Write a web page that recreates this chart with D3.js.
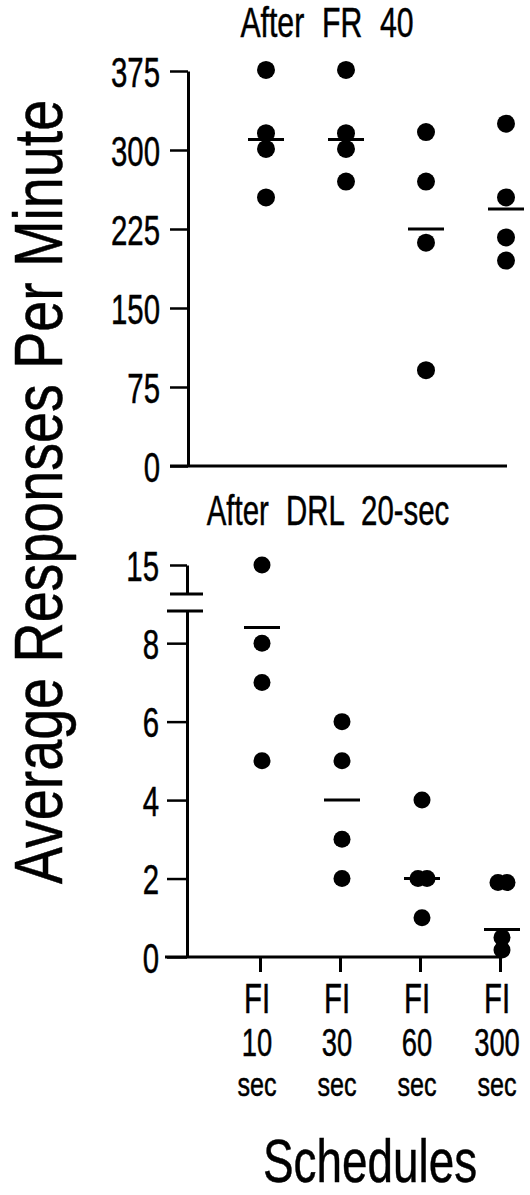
<!DOCTYPE html>
<html>
<head>
<meta charset="utf-8">
<script src="https://cdn.jsdelivr.net/npm/d3@7"></script>
<style>
  body { margin: 0; background: #fff; }
  svg text { font-family: "Liberation Sans", Arial, sans-serif; fill: #000; stroke: #000; stroke-width: 0.5px; }
  .axis path, .axis line { stroke: #000; }
</style>
</head>
<body>
<div id="chart"></div>
<script>
// Schedules on the x axis (three text lines each)
const schedules = ['FI 10 sec', 'FI 30 sec', 'FI 60 sec', 'FI 300 sec'];
const schedSeconds = ['10', '30', '60', '300'];

// After FR 40: individual subjects and group mean
const frValues = [[376, 316, 301, 255], [376, 316, 301, 270], [317, 270, 212, 91], [325, 255, 217, 195]];
const frMeans = [310, 310, 225, 244];
const frTicks = [0, 75, 150, 225, 300, 375];

// After DRL 20-sec
const drlValues = [[15, 8, 7, 5], [6, 5, 3, 2], [4, 2, 2, 1], [1.9, 1.9, 0.5, 0.18]];
const drlMeans = [8.4, 4, 2, 0.7];
const drlTicks = [0, 2, 4, 6, 8];
const drlTopTicks = [15];

const width = 530, height = 1195;
const condense = 0.7;

const svg = d3.select('#chart').append('svg')
    .attr('width', width)
    .attr('height', height);

// Scales
const xTop = d3.scalePoint().domain(schedules).range([266, 506]);
const xBot = d3.scalePoint().domain(schedules).range([262, 502]);
const yTop = d3.scaleLinear().domain([0, 375]).range([466, 71]);
const yLow = d3.scaleLinear().domain([0, 8.82]).range([957, 611]);
const yHigh = d3.scaleLinear().domain([14, 15]).range([594, 565]);
const yDrl = v => v > 8.82 ? yHigh(v) : yLow(v);

// condensed tick labels
function styleTicks(g, size) {
    g.selectAll('.tick line').attr('stroke-width', 2.5);
    g.selectAll('.tick text')
        .attr('font-size', 42)
        .attr('x', -(size + 10) / condense)
        .attr('dy', '0.36em')
        .attr('transform', 'scale(' + condense + ',1)');
    g.select('.domain').attr('stroke-width', 3);
}

// ---- top panel ----
const axTop = svg.append('g')
    .attr('class', 'axis')
    .attr('transform', 'translate(188,0)')
    .call(d3.axisLeft(yTop).tickValues(frTicks).tickSize(18).tickSizeOuter(0));
styleTicks(axTop, 18);

svg.append('line')
    .attr('x1', 170).attr('x2', xTop.range()[1] + 1)
    .attr('y1', yTop(0)).attr('y2', yTop(0))
    .attr('stroke', '#000').attr('stroke-width', 3);

svg.append('text')
    .attr('transform', 'translate(327,37) scale(0.72,1)')
    .attr('text-anchor', 'middle')
    .attr('font-size', 42)
    .style('word-spacing', '13px')
    .text('After FR 40');

schedules.forEach((s, i) => {
    svg.append('g').selectAll('circle')
        .data(frValues[i])
        .join('circle')
        .attr('cx', xTop(s))
        .attr('cy', d => yTop(d))
        .attr('r', 9);
    svg.append('line')
        .attr('x1', xTop(s) - 18).attr('x2', xTop(s) + 18)
        .attr('y1', yTop(frMeans[i])).attr('y2', yTop(frMeans[i]))
        .attr('stroke', '#000').attr('stroke-width', 3);
});

// ---- bottom panel ----
const axLow = svg.append('g')
    .attr('class', 'axis')
    .attr('transform', 'translate(187,0)')
    .call(d3.axisLeft(yLow).tickValues(drlTicks).tickSize(20).tickSizeOuter(0));
styleTicks(axLow, 18);

const axHigh = svg.append('g')
    .attr('class', 'axis')
    .attr('transform', 'translate(187,0)')
    .call(d3.axisLeft(yHigh).tickValues(drlTopTicks).tickFormat(d3.format('d')).tickSize(17).tickSizeOuter(0));
styleTicks(axHigh, 18);

// axis break marks
svg.append('line')
    .attr('x1', 170).attr('x2', 203)
    .attr('y1', yHigh.range()[0]).attr('y2', yHigh.range()[0])
    .attr('stroke', '#000').attr('stroke-width', 3);
svg.append('line')
    .attr('x1', 167).attr('x2', 203)
    .attr('y1', yLow.range()[1]).attr('y2', yLow.range()[1])
    .attr('stroke', '#000').attr('stroke-width', 3);

// x axis with ticks going down
const axX = svg.append('g')
    .attr('class', 'axis')
    .attr('transform', 'translate(-2,' + yLow(0) + ')')
    .call(d3.axisBottom(xBot).tickSize(15).tickSizeOuter(0).tickFormat(''));
axX.select('.domain').remove();
axX.selectAll('.tick line').attr('stroke-width', 3);
svg.append('line')
    .attr('x1', 165).attr('x2', xBot.range()[1])
    .attr('y1', yLow(0)).attr('y2', yLow(0))
    .attr('stroke', '#000').attr('stroke-width', 3);

svg.append('text')
    .attr('transform', 'translate(328,525) scale(0.7,1)')
    .attr('text-anchor', 'middle')
    .attr('font-size', 42)
    .style('word-spacing', '13px')
    .text('After DRL 20-sec');

schedules.forEach((s, i) => {
    const vals = drlValues[i];
    svg.append('g').selectAll('circle')
        .data(vals)
        .join('circle')
        .attr('cx', (d, j) => {
            // nudge repeated values so both dots show
            const dup = vals.indexOf(d) !== vals.lastIndexOf(d);
            if (!dup) return xBot(s);
            return xBot(s) + (vals.indexOf(d) === j ? -4 : 5);
        })
        .attr('cy', d => yDrl(d))
        .attr('r', 8.5);
    svg.append('line')
        .attr('x1', xBot(s) - 18).attr('x2', xBot(s) + 18)
        .attr('y1', yDrl(drlMeans[i])).attr('y2', yDrl(drlMeans[i]))
        .attr('stroke', '#000').attr('stroke-width', 3);
});

// schedule labels
const lab = svg.append('g').selectAll('g')
    .data(schedules)
    .join('g')
    .attr('transform', d => 'translate(' + (xBot(d) - 5) + ',0)');
lab.append('text')
    .attr('transform', 'translate(0,1013) scale(' + condense + ',1)')
    .attr('text-anchor', 'middle').attr('font-size', 42)
    .text('FI');
lab.append('text')
    .attr('transform', 'translate(0,1056) scale(0.72,1)')
    .attr('text-anchor', 'middle').attr('font-size', 38)
    .text((d, i) => schedSeconds[i]);
lab.append('text')
    .attr('transform', 'translate(0,1096) scale(0.74,1)')
    .attr('text-anchor', 'middle').attr('font-size', 34)
    .text('sec');

// axis titles
svg.append('text')
    .attr('transform', 'translate(370,1182) scale(0.74,1)')
    .attr('text-anchor', 'middle')
    .attr('font-size', 62)
    .text('Schedules');

svg.append('text')
    .attr('transform', 'translate(62,492) rotate(-90) scale(0.818,1)')
    .attr('text-anchor', 'middle')
    .attr('font-size', 68)
    .text('Average Responses Per Minute');
</script>
</body>
</html>
